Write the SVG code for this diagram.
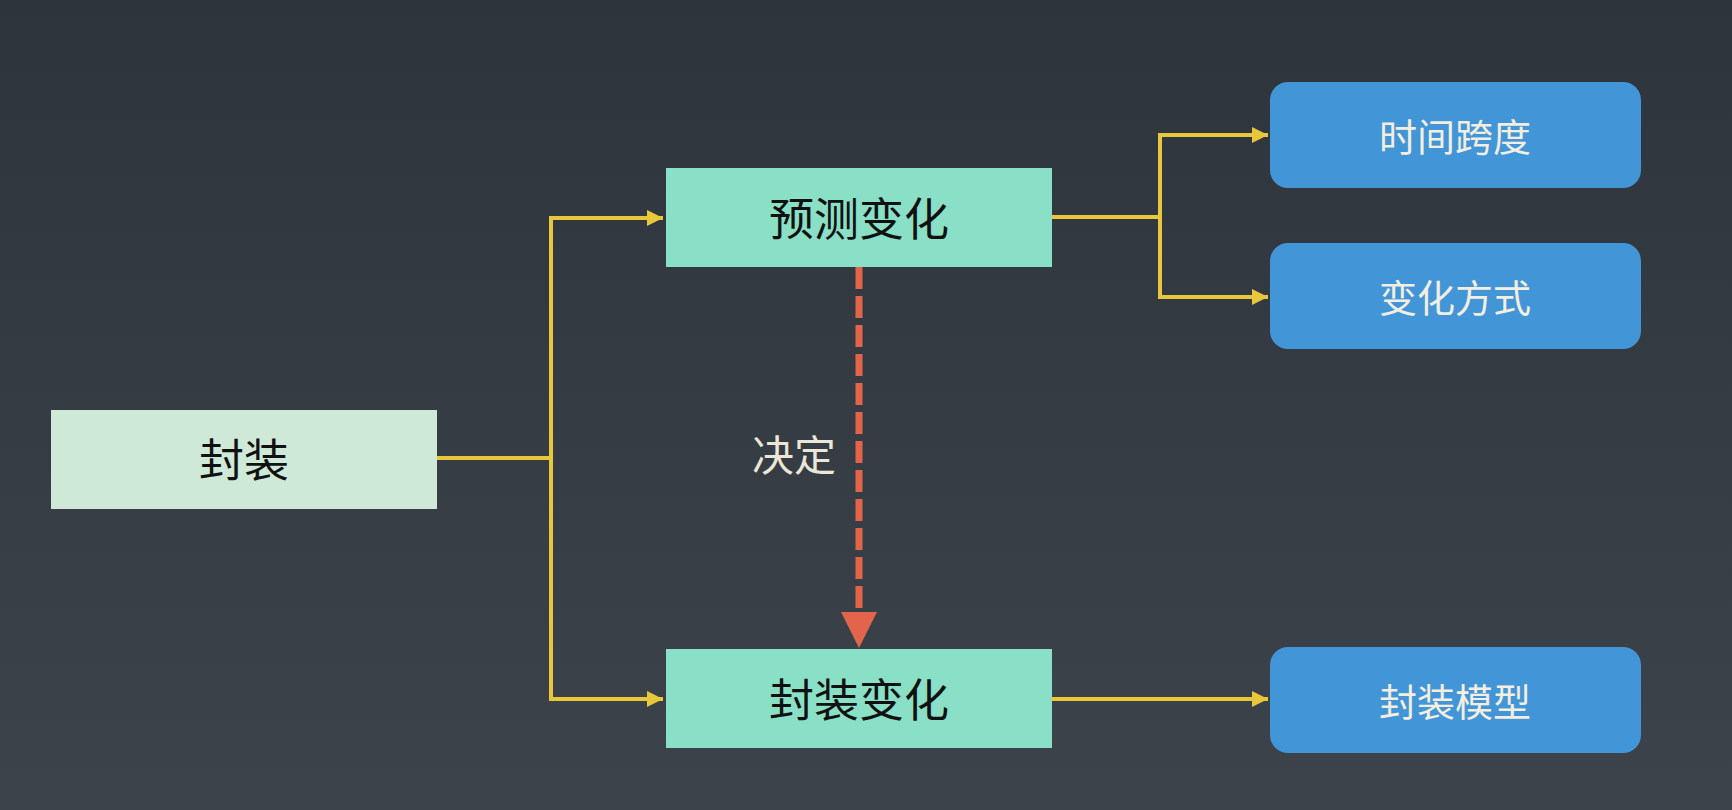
<svg xmlns="http://www.w3.org/2000/svg" width="1732" height="810" viewBox="0 0 1732 810">
  <defs>
    <linearGradient id="bg" x1="0" y1="0" x2="0" y2="1">
      <stop offset="0" stop-color="#2e343c"/>
      <stop offset="1" stop-color="#3c434a"/>
    </linearGradient>
    <marker id="ya" viewBox="0 0 10 10" refX="10" refY="5" markerWidth="4" markerHeight="4" markerUnits="strokeWidth" orient="auto">
      <path d="M0,0 L10,5 L0,10 z" fill="#e8c83a"/>
    </marker>
    <style>
      .conn { fill: none; stroke: #e8c83a; stroke-width: 4; }
      .dash { fill: none; stroke: #e2644a; stroke-width: 7; stroke-dasharray: 22 7; }
      .t { font-family: "Noto Sans CJK SC", "Noto Sans", sans-serif; text-anchor: middle; dominant-baseline: central; font-weight: 400; }
      .dark { fill: #111111; font-size: 45px; }
      .light { fill: #f3eedf; font-size: 38px; }
      .green1 { fill: #cfe9d8; }
      .green2 { fill: #8ae0c6; }
      .blue { fill: #4296d7; }
    </style>
  </defs>
  <rect x="0" y="0" width="1732" height="810" fill="url(#bg)"/>

  <g id="connectors">
    <path class="conn" d="M437,458 H551 V218 H663" marker-end="url(#ya)"/>
    <path class="conn" d="M551,458 V699 H663" marker-end="url(#ya)"/>
    <path class="conn" d="M1052,217 H1160 V135 H1268" marker-end="url(#ya)"/>
    <path class="conn" d="M1160,217 V297 H1268" marker-end="url(#ya)"/>
    <path class="conn" d="M1052,699 H1268" marker-end="url(#ya)"/>
    <line class="dash" x1="859" y1="267" x2="859" y2="614"/>
    <polygon points="841,612 877,612 859,648" fill="#e2644a"/>
    <text class="t" x="794" y="452" font-size="42" fill="#ece6d6">决定</text>
  </g>

  <g id="node-fengzhuang">
    <rect class="green1" x="51" y="410" width="386" height="99"/>
    <text class="t dark" x="244" y="457">封装</text>
  </g>

  <g id="node-yuce">
    <rect class="green2" x="666" y="168" width="386" height="99"/>
    <text class="t dark" x="859" y="216">预测变化</text>
  </g>

  <g id="node-fengzhuangbianhua">
    <rect class="green2" x="666" y="649" width="386" height="99"/>
    <text class="t dark" x="859" y="697">封装变化</text>
  </g>

  <g id="node-shijian">
    <rect class="blue" x="1270" y="82" width="371" height="106" rx="18"/>
    <text class="t light" x="1455" y="134">时间跨度</text>
  </g>

  <g id="node-fangshi">
    <rect class="blue" x="1270" y="243" width="371" height="106" rx="18"/>
    <text class="t light" x="1455" y="295">变化方式</text>
  </g>

  <g id="node-moxing">
    <rect class="blue" x="1270" y="647" width="371" height="106" rx="18"/>
    <text class="t light" x="1455" y="699">封装模型</text>
  </g>
</svg>
